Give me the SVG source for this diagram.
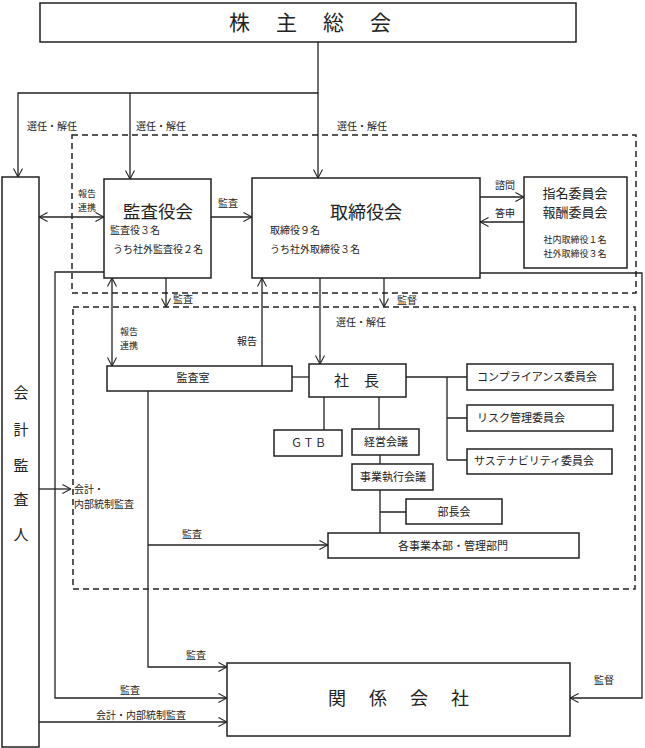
<svg xmlns="http://www.w3.org/2000/svg" width="645" height="748" viewBox="0 0 645 748">
<style>
.box{fill:#fff;stroke:#222;stroke-width:1.5}
.ln{fill:none;stroke:#222;stroke-width:1.3}
.ar{fill:none;stroke:#222;stroke-width:1.3;marker-end:url(#arr)}
.dar{fill:none;stroke:#222;stroke-width:1.3;marker-end:url(#arr);marker-start:url(#arr)}
.dash{fill:none;stroke:#222;stroke-width:1.5;stroke-dasharray:6 4}
text{font-family:"Noto Sans CJK JP","Noto Sans",sans-serif;fill:#222}
.s{font-size:10px}
.t{font-size:9px}
.m{font-size:11px}
.c{text-anchor:middle}
</style>
<defs>
<marker id="arr" viewBox="0 0 10 10" refX="9.5" refY="5" markerWidth="9" markerHeight="10" markerUnits="userSpaceOnUse" orient="auto-start-reverse">
<path d="M0,0 L9.5,5 L0,10" fill="none" stroke="#222" stroke-width="1.2"/>
</marker>
</defs>
<rect width="645" height="748" fill="#fff"/>
<g id="groups">
<rect class="dash" x="72" y="135" width="564" height="158"/>
<rect class="dash" x="73" y="307" width="562" height="282"/>
</g>
<g id="connectors">
<path class="ar" d="M318,42 V178"/>
<path class="ar" d="M318,93 H18 V177"/>
<path class="ar" d="M130,93 V179"/>
<path class="dar" d="M39,217 H104"/>
<path class="ar" d="M211,217 H252"/>
<path class="ar" d="M480,197 H524"/>
<path class="ar" d="M524,222 H480"/>
<path class="ar" d="M104,272 H55 V698 H227"/>
<path class="ar" d="M166,278 V307"/>
<path class="dar" d="M112,278 V366"/>
<path class="ar" d="M262,366 V278"/>
<path class="ar" d="M320,278 V364"/>
<path class="ar" d="M384,278 V307"/>
<path class="ar" d="M480,273 H642 V698 H570"/>
<path class="ln" d="M292,377 H309"/>
<path class="ln" d="M406,377 H467 M447,377 V460 M447,418 H467 M447,460 H467"/>
<path class="ln" d="M324,397 V430 M379,397 V429 M380,455 V464 M380,490 V533 M380,512 H406"/>
<path class="ar" d="M148,391 V667 H227"/>
<path class="ar" d="M148,545 H328"/>
<path class="ar" d="M39,489 H71"/>
<path class="ar" d="M39,722 H227"/>
<text class="s" x="27" y="130">選任・解任</text>
<text class="s" x="136" y="130">選任・解任</text>
<text class="s" x="337" y="130">選任・解任</text>
<text class="t" x="78" y="197">報告</text>
<text class="t" x="78" y="211">連携</text>
<text class="s" x="218" y="207">監査</text>
<text class="s" x="495" y="189">諮問</text>
<text class="s" x="495" y="217">答申</text>
<text class="s" x="173" y="303">監査</text>
<text class="s" x="397" y="304">監督</text>
<text class="s" x="336" y="326">選任・解任</text>
<text class="t" x="120" y="335">報告</text>
<text class="t" x="120" y="349">連携</text>
<text class="s" x="237" y="345">報告</text>
<text class="s" x="74" y="493">会計・</text>
<text class="s" x="74" y="508">内部統制監査</text>
<text class="s" x="182" y="538">監査</text>
<text class="s" x="186" y="659">監査</text>
<text class="s" x="120" y="694">監査</text>
<text class="s" x="96" y="719">会計・内部統制監査</text>
<text class="s" x="594" y="684">監督</text>
</g>
<g id="n-kabunushi">
<rect class="box" x="40" y="3" width="536" height="39"/>
<text x="323" y="30" font-size="21" class="c" letter-spacing="26">株主総会</text>
</g>
<g id="n-kaikei">
<rect class="box" x="2" y="177" width="37" height="570"/>
<text x="21" y="398" font-size="15" class="c">会</text>
<text x="21" y="435" font-size="15" class="c">計</text>
<text x="21" y="471" font-size="15" class="c">監</text>
<text x="21" y="505" font-size="15" class="c">査</text>
<text x="21" y="540" font-size="15" class="c">人</text>
</g>
<g id="n-kansayakukai">
<rect class="box" x="104" y="179" width="107" height="99"/>
<text x="158" y="218" font-size="17.5" class="c">監査役会</text>
<text class="s" x="110" y="234">監査役３名</text>
<text class="s" x="113" y="253">うち社外監査役２名</text>
</g>
<g id="n-torishimariyakukai">
<rect class="box" x="252" y="178" width="228" height="100"/>
<text x="366" y="219" font-size="18" class="c">取締役会</text>
<text class="s" x="270" y="234">取締役９名</text>
<text class="s" x="270" y="253">うち社外取締役３名</text>
</g>
<g id="n-iinkai">
<rect class="box" x="524" y="177" width="103" height="91"/>
<text x="575" y="198" font-size="13" class="c">指名委員会</text>
<text x="575" y="217" font-size="13" class="c">報酬委員会</text>
<text class="t c" x="575" y="243">社内取締役１名</text>
<text class="t c" x="575" y="257">社外取締役３名</text>
</g>
<g id="n-kansashitsu">
<rect class="box" x="107" y="366" width="185" height="25"/>
<text class="m c" x="193" y="382">監査室</text>
</g>
<g id="n-shacho">
<rect class="box" x="309" y="364" width="97" height="33"/>
<text x="364" y="386" font-size="15" class="c" letter-spacing="15">社長</text>
</g>
<g id="n-gtb">
<rect class="box" x="274" y="430" width="68" height="26"/>
<text class="m c" x="309" y="447" letter-spacing="1">ＧＴＢ</text>
</g>
<g id="n-keiei">
<rect class="box" x="352" y="429" width="67" height="26"/>
<text class="m c" x="386" y="446">経営会議</text>
</g>
<g id="n-jigyoshikko">
<rect class="box" x="352" y="464" width="81" height="26"/>
<text class="m c" x="393" y="481">事業執行会議</text>
</g>
<g id="n-buchokai">
<rect class="box" x="406" y="499" width="96" height="25"/>
<text class="m c" x="454" y="516">部長会</text>
</g>
<g id="n-jigyohonbu">
<rect class="box" x="328" y="533" width="251" height="25"/>
<text class="m c" x="453" y="550">各事業本部・管理部門</text>
</g>
<g id="n-compliance">
<rect class="box" x="467" y="364" width="146" height="26"/>
<text class="m" x="477" y="381">コンプライアンス委員会</text>
</g>
<g id="n-risk">
<rect class="box" x="467" y="405" width="146" height="26"/>
<text class="m" x="477" y="422">リスク管理委員会</text>
</g>
<g id="n-sustainability">
<rect class="box" x="467" y="449" width="145" height="25"/>
<text class="m" x="474" y="465">サステナビリティ委員会</text>
</g>
<g id="n-kankei">
<rect class="box" x="227" y="663" width="343" height="73"/>
<text x="410" y="705" font-size="18" class="c" letter-spacing="23">関係会社</text>
</g>
</svg>
